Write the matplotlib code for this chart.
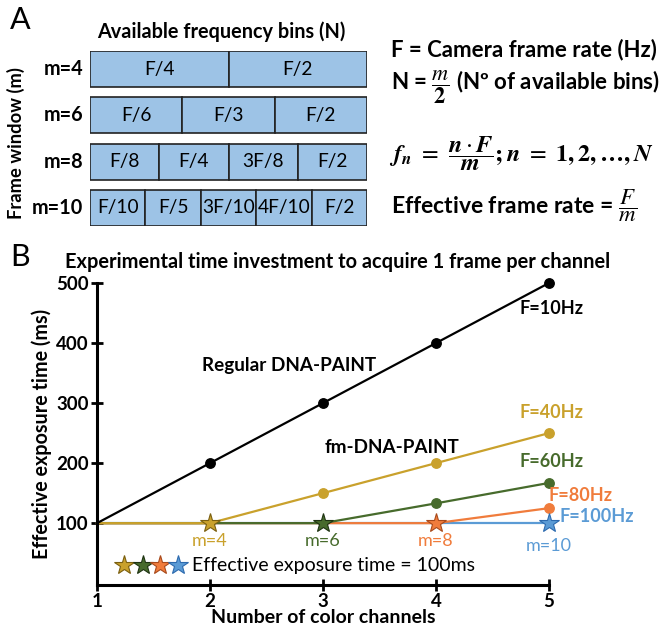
import matplotlib.pyplot as plt

plt.rcParams['font.family'] = ['Lato', 'DejaVu Sans']
plt.rcParams['mathtext.fontset'] = 'stix'

# Panel A: ventanas de frames y sus bins de frecuencia
ventanas = [4, 6, 8, 10]
bins_labels = [['F/4', 'F/2'],
               ['F/6', 'F/3', 'F/2'],
               ['F/8', 'F/4', '3F/8', 'F/2'],
               ['F/10', 'F/5', '3F/10', '4F/10', 'F/2']]

# Panel B: tiempo de exposicion efectivo (ms) vs numero de canales
canales = [1, 2, 3, 4, 5]
exp_10hz = [100, 200, 300, 400, 500]
exp_40hz = [100, 100, 150, 200, 250]
exp_60hz = [100, 100, 100, 133, 167]
exp_80hz = [100, 100, 100, 100, 125]
exp_100hz = [100, 100, 100, 100, 100]
# indice donde el tiempo efectivo es 100 ms (estrella)
idx_estrella = [1, 2, 3, 4]
m_estrella = ['m=4', 'm=6', 'm=8', 'm=10']

oro = '#C9A12C'
verde = '#476B2C'
naranja = '#F07C3C'
azul = '#5B9BD5'
bordes = ['#7A5F10', '#1E3312', '#A84A1C', '#2D6AAE']

W, H = 664, 627
fig = plt.figure(figsize=(W / 100, H / 100), dpi=100)

def fx(px):
    return px / W

def fy(py):
    return 1 - py / H

# ---------------- Panel A ----------------
fig.text(fx(10), fy(20), 'A', fontsize=22, va='center', ha='left')
fig.text(fx(221), fy(32), 'Available frequency bins (N)', fontsize=14.3,
         weight='bold', ha='center', va='center')
fig.text(fx(16), fy(143), 'Frame window (m)', fontsize=13.2, weight='bold',
         rotation=90, ha='center', va='center')

ax_a = fig.add_axes([fx(90), fy(226), (367 - 90) / W, 175 / H])
ax_a.set_xlim(0, 1)
ax_a.set_ylim(3.39, -0.39)
ax_a.axis('off')
for i, (m, labels) in enumerate(zip(ventanas, bins_labels)):
    n = len(labels)
    for k, lab in enumerate(labels):
        ax_a.barh(i, 1 / n, left=k / n, height=0.78, color='#9DC3E6',
                  edgecolor='#222222', linewidth=1.2)
        ax_a.text((k + 0.5) / n, i, lab, ha='center', va='center', fontsize=13.8)
    ax_a.text(-0.025, i, f'm={m}', ha='right', va='center', fontsize=14.3,
              weight='bold')

fig.text(fx(391), fy(50), 'F = Camera frame rate (Hz)', fontsize=16,
         weight='bold', ha='left', va='center')
fig.text(fx(391), fy(87), r'N = $\dfrac{m}{\mathbf{2}}$ (Nº of available bins)',
         fontsize=16, weight='bold', ha='left', va='center')
fig.text(fx(389), fy(154),
         r'$\mathbfit{f_n}$ $=$ $\dfrac{\mathbfit{n}\cdot\mathbfit{F}}{\mathbfit{m}}$$\mathbf{;}\mathbfit{n}$ $=$ $\mathbf{1,2,\ldots,}\mathbfit{N}$',
         fontsize=17.5, ha='left', va='center')
fig.text(fx(391), fy(206), r'Effective frame rate = $\dfrac{F}{m}$',
         fontsize=16.5, weight='bold', ha='left', va='center')

# ---------------- Panel B ----------------
fig.text(fx(10), fy(257), 'B', fontsize=22, va='center', ha='left')
fig.text(fx(338), fy(262),
         'Experimental time investment to acquire 1 frame per channel',
         fontsize=14.4, weight='bold', ha='center', va='center')

ax = fig.add_axes([fx(97), fy(585), 452 / W, 302 / H])
ax.set_xlim(1, 5)
ax.set_ylim(-3, 500)

series = [(exp_100hz, azul), (exp_80hz, naranja), (exp_60hz, verde), (exp_40hz, oro)]
for (vals, col) in series:
    ax.plot(canales, vals, color=col, lw=1.6, clip_on=False, zorder=2)

# circulos en los puntos por encima de 100 ms
for (vals, col), s in zip(series, idx_estrella[::-1]):
    puntos = list(range(s + 1, len(canales)))
    if puntos:
        ax.plot([canales[p] for p in puntos], [vals[p] for p in puntos], 'o',
                color=col, ms=6.8, clip_on=False, zorder=3)

ax.plot(canales, exp_10hz, color='black', lw=1.6, clip_on=False, zorder=4)
ax.plot(canales[1:], exp_10hz[1:], 'o', color='black', ms=6.8,
        clip_on=False, zorder=4)

# estrellas donde el tiempo efectivo llega a 100 ms
colores = [oro, verde, naranja, azul]
for s, col, bc, lab, vals in zip(idx_estrella, colores, bordes, m_estrella,
                                 [exp_40hz, exp_60hz, exp_80hz, exp_100hz]):
    ax.plot(canales[s], vals[s], marker='*', ms=15, color=col,
            markeredgecolor=bc, markeredgewidth=0.8, clip_on=False, zorder=5)
    dy = 62 if lab == 'm=10' else 71
    ax.text(canales[s], dy, lab, color=col, fontsize=13, ha='center',
            va='center')

# leyenda de estrellas
for xs, col, bc in zip([1.24, 1.41, 1.56, 1.72], colores, bordes):
    ax.plot(xs, 30, marker='*', ms=15, color=col, markeredgecolor=bc,
            markeredgewidth=0.8, clip_on=False)
ax.text(1.84, 30, 'Effective exposure time = 100ms', fontsize=14,
        ha='left', va='center')

ax.text(5.02, 458, 'F=10Hz', fontsize=13, weight='bold', ha='center', va='center')
ax.text(2.70, 363, 'Regular DNA-PAINT', fontsize=13.6, weight='bold',
        ha='center', va='center')
ax.text(3.61, 226, 'fm-DNA-PAINT', fontsize=13.6, weight='bold',
        ha='center', va='center')
ax.text(5.02, 284, 'F=40Hz', fontsize=13, weight='bold', color=oro,
        ha='center', va='center')
ax.text(5.02, 202, 'F=60Hz', fontsize=13, weight='bold', color=verde,
        ha='center', va='center')
ax.text(5.28, 146, 'F=80Hz', fontsize=13, weight='bold', color=naranja,
        ha='center', va='center')
ax.text(5.095, 111, 'F=100Hz', fontsize=13, weight='bold', color=azul,
        ha='left', va='center')

ax.spines['top'].set_visible(False)
ax.spines['right'].set_visible(False)
ax.spines['left'].set_linewidth(2.2)
ax.spines['bottom'].set_linewidth(2.2)
ax.set_xticks(canales)
ax.set_yticks([100, 200, 300, 400, 500])
ax.tick_params(direction='inout', length=8, width=2, labelsize=13.5, pad=2)
for t in ax.get_xticklabels() + ax.get_yticklabels():
    t.set_fontweight('bold')
ax.set_xlabel('Number of color channels', fontsize=14, weight='bold', labelpad=-1)
ax.set_ylabel('Effective exposure time (ms)', fontsize=14.2, weight='bold', labelpad=3)

fig.savefig('out.png', dpi=100)
